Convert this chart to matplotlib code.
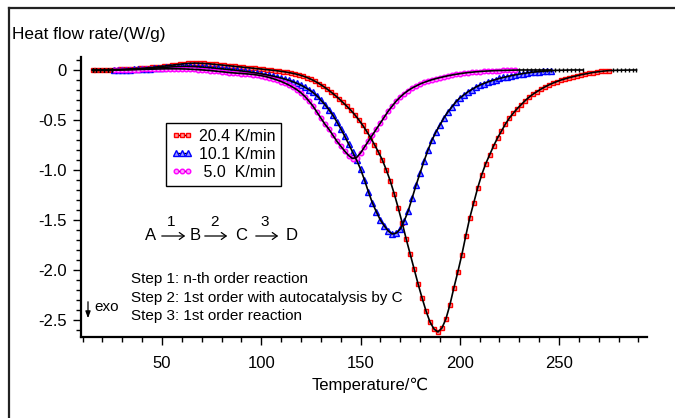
import numpy as np
import matplotlib
matplotlib.use("Agg")
from matplotlib import pyplot as plt
from matplotlib.lines import Line2D

plt.rcParams['font.family'] = ['Liberation Sans', 'DejaVu Sans']
plt.rcParams['axes.unicode_minus'] = False

# measured DSC curves, sampled every 2 K
red_T = np.arange(15, 276, 2)      # 20.4 K/min
red_v = [0.000, 0.000, 0.001, 0.002, 0.003, 0.004, 0.005, 0.006, 0.008, 0.010,
         0.012, 0.014, 0.016, 0.019, 0.022, 0.026, 0.030, 0.034, 0.039, 0.044,
         0.049, 0.054, 0.058, 0.062, 0.066, 0.068, 0.069, 0.068, 0.066, 0.063,
         0.060, 0.056, 0.052, 0.048, 0.044, 0.040, 0.036, 0.032, 0.028, 0.024,
         0.020, 0.016, 0.012, 0.008, 0.004, 0.000, -0.005, -0.010, -0.016, -0.022,
         -0.030, -0.038, -0.048, -0.060, -0.075, -0.092, -0.112, -0.135, -0.160, -0.188,
         -0.218, -0.250, -0.285, -0.322, -0.360, -0.400, -0.445, -0.495, -0.550, -0.610,
         -0.675, -0.745, -0.820, -0.900, -1.000, -1.110, -1.240, -1.380, -1.530, -1.690,
         -1.840, -1.990, -2.140, -2.280, -2.410, -2.520, -2.590, -2.620, -2.580, -2.490,
         -2.350, -2.180, -2.020, -1.850, -1.660, -1.480, -1.330, -1.180, -1.050, -0.940,
         -0.850, -0.760, -0.680, -0.610, -0.540, -0.480, -0.430, -0.385, -0.345, -0.305,
         -0.270, -0.240, -0.215, -0.190, -0.168, -0.148, -0.130, -0.115, -0.100, -0.088,
         -0.077, -0.067, -0.057, -0.048, -0.040, -0.032, -0.025, -0.019, -0.014, -0.010,
         -0.006]

blue_T = np.arange(26, 247, 2)     # 10.1 K/min
blue_v = [0.000, 0.001, 0.002, 0.003, 0.004, 0.006, 0.008, 0.010, 0.012, 0.015,
          0.018, 0.021, 0.024, 0.027, 0.030, 0.033, 0.035, 0.036, 0.037, 0.036,
          0.035, 0.033, 0.030, 0.027, 0.024, 0.020, 0.016, 0.012, 0.008, 0.004,
          0.000, -0.004, -0.009, -0.014, -0.019, -0.025, -0.031, -0.038, -0.045, -0.053,
          -0.061, -0.070, -0.080, -0.091, -0.104, -0.118, -0.134, -0.152, -0.173, -0.197,
          -0.224, -0.258, -0.300, -0.345, -0.395, -0.450, -0.515, -0.585, -0.660, -0.740,
          -0.820, -0.900, -0.990, -1.100, -1.220, -1.330, -1.420, -1.500, -1.560, -1.610,
          -1.640, -1.630, -1.590, -1.510, -1.410, -1.280, -1.150, -1.030, -0.910, -0.800,
          -0.700, -0.620, -0.550, -0.480, -0.420, -0.370, -0.320, -0.280, -0.250, -0.220,
          -0.195, -0.172, -0.152, -0.135, -0.120, -0.107, -0.095, -0.084, -0.074, -0.065,
          -0.056, -0.048, -0.041, -0.035, -0.029, -0.024, -0.019, -0.015, -0.012, -0.009,
          -0.006]

mag_T = np.arange(26, 229, 2)      # 5.0 K/min
mag_v = [0.000, 0.000, 0.001, 0.002, 0.003, 0.004, 0.005, 0.006, 0.007, 0.008,
         0.009, 0.010, 0.011, 0.012, 0.012, 0.012, 0.012, 0.011, 0.010, 0.008,
         0.006, 0.004, 0.001, -0.002, -0.005, -0.009, -0.013, -0.017, -0.021, -0.026,
         -0.029, -0.032, -0.035, -0.038, -0.041, -0.045, -0.050, -0.057, -0.065, -0.075,
         -0.087, -0.100, -0.115, -0.132, -0.151, -0.173, -0.198, -0.228, -0.265, -0.310,
         -0.360, -0.420, -0.480, -0.540, -0.590, -0.650, -0.710, -0.760, -0.810, -0.855,
         -0.885, -0.875, -0.830, -0.770, -0.710, -0.650, -0.590, -0.530, -0.470, -0.410,
         -0.360, -0.310, -0.270, -0.235, -0.205, -0.180, -0.160, -0.140, -0.124, -0.110,
         -0.097, -0.086, -0.076, -0.067, -0.058, -0.050, -0.043, -0.037, -0.031, -0.026,
         -0.022, -0.018, -0.015, -0.012, -0.010, -0.008, -0.006, -0.005, -0.004, -0.003,
         -0.002, -0.001]

# flat ends of the fitted curves outside the measured range
head_T = [15, 17, 19, 21, 23, 25]
head_v = [0, 0, 0, 0, 0, 0]
red_tail_T = [277, 279, 281, 283, 285, 287, 289]
red_tail_v = [-0.004, -0.003, -0.002, -0.001, 0.0, 0.0, 0.0]
blue_tail_T = [248, 250, 252, 254, 256, 258, 260, 262]
blue_tail_v = [-0.004, -0.003, -0.002, -0.001, 0.0, 0.0, 0.0, 0.0]
mag_tail_T = [230, 232, 234, 236, 238, 240, 242, 244, 246]
mag_tail_v = [0, 0, 0, 0, 0, 0, 0, 0, 0]

labels = ["20.4 K/min", "10.1 K/min", " 5.0  K/min"]

W, H = 675, 418
fig = plt.figure(figsize=(6.75, 4.18), dpi=100)
ax = fig.add_axes([81 / W, 1 - 337 / H, 566 / W, 280 / H])


def px(x, y):
    return x / W, 1 - y / H


# measured points
ax.plot(red_T, red_v, ls='none', marker='s', ms=3.3, mfc='#ff9a9a', mec='red', mew=1.0, zorder=2)
ax.plot(blue_T, blue_v, ls='none', marker='^', ms=3.8, mfc='#9a9aff', mec='blue', mew=1.0, zorder=2)
ax.plot(mag_T, mag_v, ls='none', marker='o', ms=3.3, mfc='#ff9aff', mec='magenta', mew=1.0, zorder=2)

# fitted curves
for tT, tv, hT, hv, eT, ev in [(red_T, red_v, [], [], red_tail_T, red_tail_v),
                               (blue_T, blue_v, head_T, head_v, blue_tail_T, blue_tail_v),
                               (mag_T, mag_v, head_T, head_v, mag_tail_T, mag_tail_v)]:
    ax.plot(list(hT) + list(tT) + list(eT), list(hv) + list(tv) + list(ev),
            color='black', lw=1.2, zorder=3)
    ax.plot(list(hT) + list(eT), list(hv) + list(ev), ls='none', marker='|',
            ms=3, mew=1.0, color='black', zorder=3)
ax.plot(red_T[:6], red_v[:6], ls='none', marker='|', ms=3, mew=1.0, color='black', zorder=3)

ax.set_xlim(9.2, 294.3)
ax.set_ylim(-2.67, 0.13)
ax.set_xticks([50, 100, 150, 200, 250])
ax.set_xticks(np.arange(10, 291, 10), minor=True)
ax.set_yticks([0, -0.5, -1.0, -1.5, -2.0, -2.5])
ax.set_yticklabels(["0", "-0.5", "-1.0", "-1.5", "-2.0", "-2.5"])
ax.set_yticks(np.arange(-2.6, 0.11, 0.1), minor=True)
ax.tick_params(which='major', direction='out', length=6, width=1, labelsize=12, pad=4)
ax.tick_params(axis='x', which='major', pad=8)
ax.tick_params(which='minor', direction='out', length=3.5, width=1)
for s in ['top', 'right']:
    ax.spines[s].set_visible(False)
for s in ['left', 'bottom']:
    ax.spines[s].set_linewidth(1.6)

handles = [Line2D([], [], color='black', lw=1, marker='s', ms=3.3, mfc='#ff9a9a', mec='red', mew=1.0),
           Line2D([], [], color='black', lw=1, marker='^', ms=3.8, mfc='#9a9aff', mec='blue', mew=1.0),
           Line2D([], [], color='black', lw=1, marker='o', ms=3.3, mfc='#ff9aff', mec='magenta', mew=1.0)]
leg = ax.legend(handles, labels, loc='upper left', bbox_to_anchor=((166 - 81) / 566, (337 - 123) / 280),
                borderaxespad=0, fontsize=11.5, numpoints=3, handlelength=1.3, handletextpad=0.4,
                labelspacing=0.2, borderpad=0.35, fancybox=False, framealpha=1)
leg.get_frame().set_edgecolor('black')
leg.get_frame().set_linewidth(1.0)

# axis titles
fig.text(*px(12, 34), "Heat flow rate/(W/g)", fontsize=12.4, va='center', ha='left')
fig.text(*px(370, 385), "Temperature/\u2103", fontsize=12, va='center', ha='center')

# reaction scheme
for x, s in [(151, "A"), (195, "B"), (241, "C"), (292, "D")]:
    fig.text(*px(x, 235), s, fontsize=12, ha='center', va='center')
for x0, x1, n in [(159, 188, "1"), (202, 230, "2"), (253, 281, "3")]:
    ax.annotate("", xy=px(x1, 236), xytext=px(x0, 236), xycoords='figure fraction',
                arrowprops=dict(arrowstyle='->,head_length=0.35,head_width=0.25', lw=0.9, color='black'))
    fig.text(*px((x0 + x1) / 2 - 2, 222), n, fontsize=11, ha='center', va='center')

fig.text(*px(131, 279), "Step 1: n-th order reaction", fontsize=11, va='center')
fig.text(*px(131, 298), "Step 2: 1st order with autocatalysis by C", fontsize=11, va='center')
fig.text(*px(131, 316), "Step 3: 1st order reaction", fontsize=11, va='center')
fig.text(*px(94, 307), "exo", fontsize=11, va='center')
ax.annotate("", xy=px(88, 321), xytext=px(88, 299), xycoords='figure fraction',
            arrowprops=dict(arrowstyle='-|>,head_length=0.4,head_width=0.15', lw=0.9, color='black'))

# outer frame
fig.add_artist(Line2D([9 / W, 1], [1 - 8 / H, 1 - 8 / H], color='#222222', lw=1.6, transform=fig.transFigure))
fig.add_artist(Line2D([9 / W, 9 / W], [0, 1 - 8 / H], color='#222222', lw=1.6, transform=fig.transFigure))

fig.savefig("out.png", dpi=100)
